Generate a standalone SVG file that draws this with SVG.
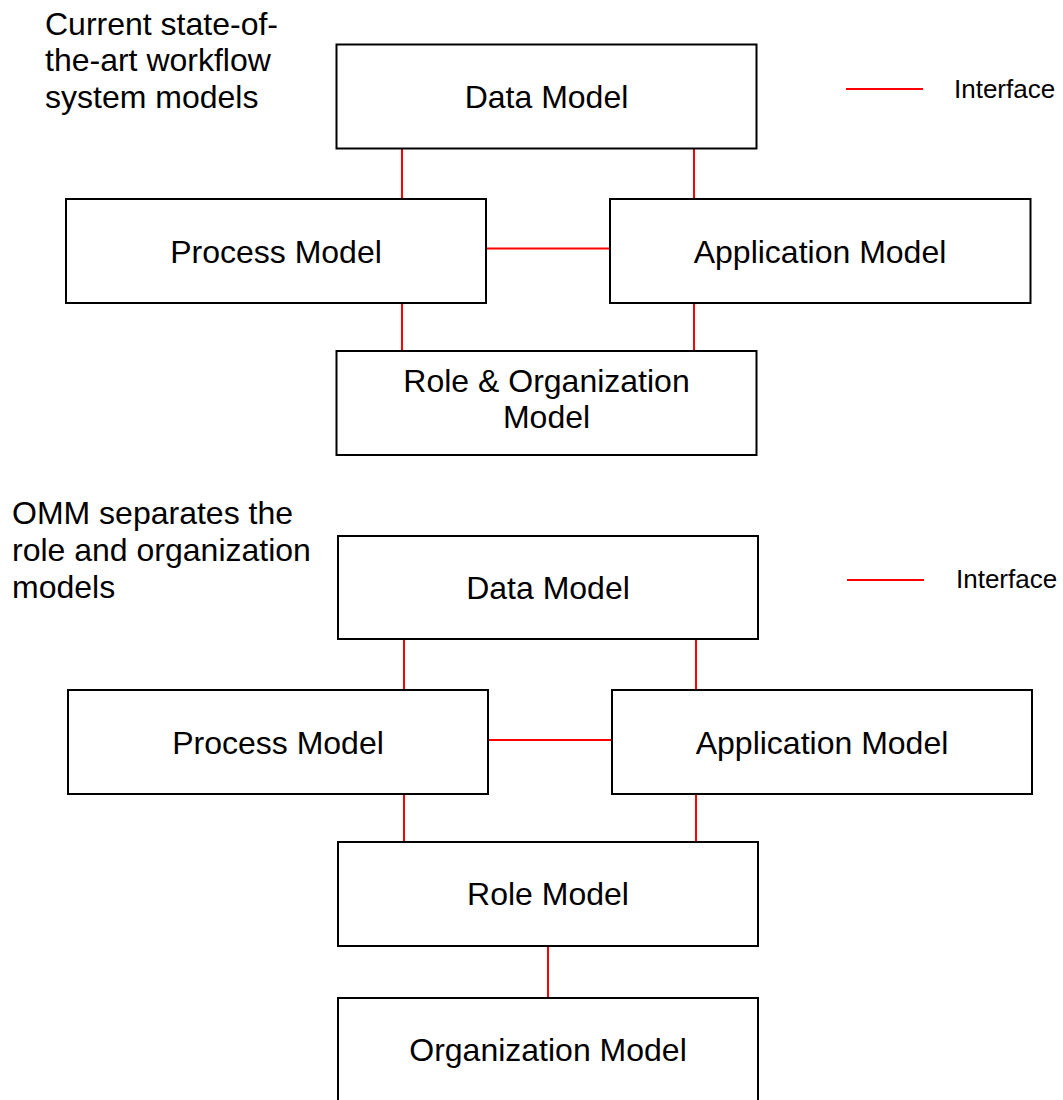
<svg xmlns="http://www.w3.org/2000/svg" width="1063" height="1100" viewBox="0 0 1063 1100">
  <style>
    .box { fill: #ffffff; stroke: #000000; stroke-width: 2; }
    .lbl { font-family: "Liberation Sans", Arial, sans-serif; font-size: 32px; fill: #000000; text-anchor: middle; }
    .title { font-family: "Liberation Sans", Arial, sans-serif; font-size: 32px; fill: #000000; }
    .legend { font-family: "Liberation Sans", Arial, sans-serif; font-size: 26px; fill: #000000; }
    .iface { stroke: #ff0000; stroke-width: 2; fill: none; }
  </style>
  <rect x="0" y="0" width="1063" height="1100" fill="#ffffff"/>

  <!-- Section 1: conventional workflow system models -->
  <text class="title" x="45" y="35">Current state-of-</text>
  <text class="title" x="45" y="71">the-art workflow</text>
  <text class="title" x="45" y="108">system models</text>

  <g id="legend1">
    <line class="iface" x1="846" y1="89" x2="923" y2="89"/>
    <text class="legend" x="954" y="98">Interface</text>
  </g>

  <g id="connectors1">
    <line class="iface" x1="402" y1="149" x2="402" y2="199"/>
    <line class="iface" x1="694" y1="149" x2="694" y2="199"/>
    <line class="iface" x1="486" y1="248.5" x2="610" y2="248.5"/>
    <line class="iface" x1="402" y1="303" x2="402" y2="351"/>
    <line class="iface" x1="694" y1="303" x2="694" y2="351"/>
  </g>

  <g id="data1">
    <rect class="box" x="336.5" y="44.5" width="420" height="104"/>
    <text class="lbl" x="546.5" y="108">Data Model</text>
  </g>
  <g id="process1">
    <rect class="box" x="66" y="199" width="420" height="104"/>
    <text class="lbl" x="276" y="263">Process Model</text>
  </g>
  <g id="application1">
    <rect class="box" x="610" y="199" width="420.5" height="104"/>
    <text class="lbl" x="820" y="263">Application Model</text>
  </g>
  <g id="roleorg1">
    <rect class="box" x="336.5" y="351" width="420" height="104"/>
    <text class="lbl" x="546.5" y="392">Role &amp; Organization</text>
    <text class="lbl" x="546.5" y="428">Model</text>
  </g>

  <!-- Section 2: OMM models -->
  <text class="title" x="12" y="524">OMM separates the</text>
  <text class="title" x="12" y="561">role and organization</text>
  <text class="title" x="12" y="598">models</text>

  <g id="legend2">
    <line class="iface" x1="847" y1="580" x2="924" y2="580"/>
    <text class="legend" x="956" y="588">Interface</text>
  </g>

  <g id="connectors2">
    <line class="iface" x1="404" y1="639" x2="404" y2="690"/>
    <line class="iface" x1="696" y1="639" x2="696" y2="690"/>
    <line class="iface" x1="488" y1="740" x2="612" y2="740"/>
    <line class="iface" x1="404" y1="794" x2="404" y2="842"/>
    <line class="iface" x1="696" y1="794" x2="696" y2="842"/>
    <line class="iface" x1="548" y1="946" x2="548" y2="998"/>
  </g>

  <g id="data2">
    <rect class="box" x="338" y="536" width="420" height="103"/>
    <text class="lbl" x="548" y="599">Data Model</text>
  </g>
  <g id="process2">
    <rect class="box" x="68" y="690" width="420" height="104"/>
    <text class="lbl" x="278" y="754">Process Model</text>
  </g>
  <g id="application2">
    <rect class="box" x="612" y="690" width="420" height="104"/>
    <text class="lbl" x="822" y="754">Application Model</text>
  </g>
  <g id="role2">
    <rect class="box" x="338" y="842" width="420" height="104"/>
    <text class="lbl" x="548" y="905">Role Model</text>
  </g>
  <g id="organization2">
    <rect class="box" x="338" y="998" width="420" height="104"/>
    <text class="lbl" x="548" y="1061">Organization Model</text>
  </g>
</svg>
